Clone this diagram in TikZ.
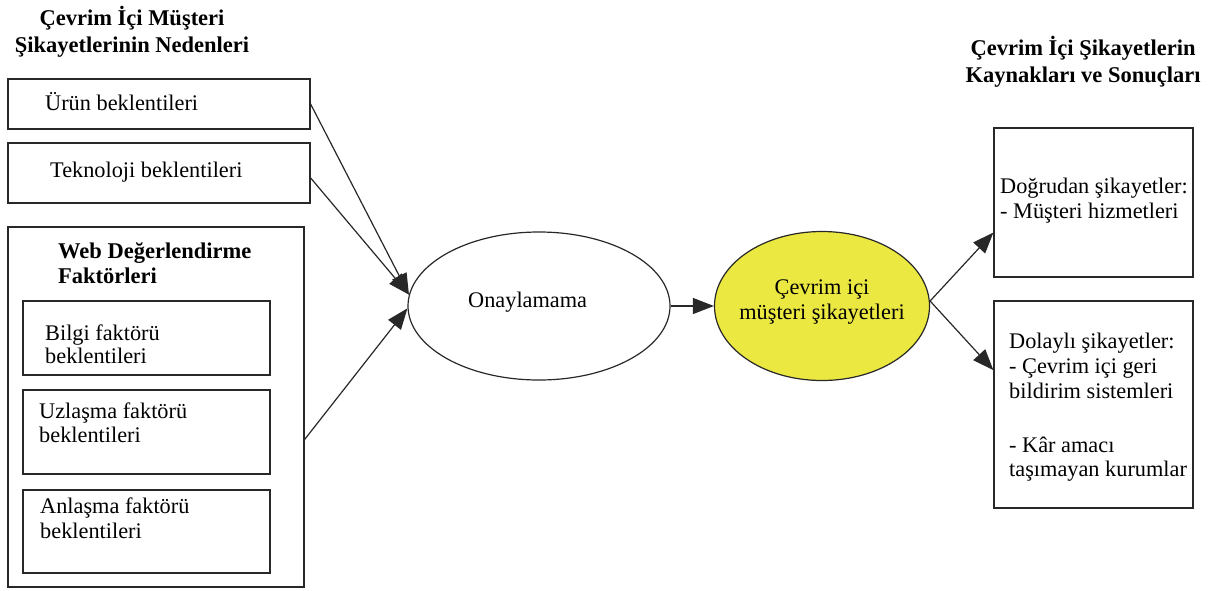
\documentclass[tikz,border=0pt]{standalone}
\usepackage{fontspec}
\setmainfont{Liberation Serif}
\usetikzlibrary{arrows.meta,shapes.geometric,calc}
\definecolor{boxline}{RGB}{40,40,40}
\definecolor{yell}{RGB}{236,232,66}
\begin{document}
\begin{tikzpicture}[x=1pt,y=-1pt,
  every node/.style={font=\fontsize{22.3}{25}\selectfont},
  boxnode/.style={draw=boxline,line width=1.2pt,rectangle,inner sep=0pt},
  txt/.style={anchor=base west,inner sep=0pt},
  ttl/.style={anchor=base,inner sep=0pt,font=\fontsize{22.5}{25}\selectfont\bfseries},
  conn/.style={line width=1.2pt,draw=boxline,-{Triangle[length=21pt,width=16pt]}}
]
\useasboundingbox (0,0) rectangle (1209,590);

% left title
\node[ttl] (lt1) at (132,25) {Çevrim İçi Müşteri};
\node[ttl] (lt2) at (132,52) {Şikayetlerinin Nedenleri};

% left boxes
\node[boxnode,minimum width=302pt,minimum height=50pt] (ur) at (159,104) {};
\node[txt] (urt) at (45,110) {Ürün beklentileri};
\node[boxnode,minimum width=302pt,minimum height=60pt] (tk) at (159,173) {};
\node[txt] (tkt) at (50,177) {Teknoloji beklentileri};

\node[boxnode,minimum width=296pt,minimum height=360pt] (web) at (156,407) {};
\node[txt,font=\fontsize{22.5}{25}\selectfont\bfseries] (wt1) at (58,258) {Web Değerlendirme};
\node[txt,font=\fontsize{22.5}{25}\selectfont\bfseries] (wt2) at (58,283) {Faktörleri};

\node[boxnode,minimum width=247pt,minimum height=74pt] (bf) at (146.5,338) {};
\node[txt] (bf1) at (45,340) {Bilgi faktörü};
\node[txt] (bf2) at (45,363) {beklentileri};
\node[boxnode,minimum width=247pt,minimum height=84pt] (uf) at (146.5,432) {};
\node[txt] (uf1) at (39,418) {Uzlaşma faktörü};
\node[txt] (uf2) at (39,442) {beklentileri};
\node[boxnode,minimum width=247pt,minimum height=83pt] (af) at (146.5,531.5) {};
\node[txt] (af1) at (40,513) {Anlaşma faktörü};
\node[txt] (af2) at (40,538) {beklentileri};

% ellipses
\node[ellipse,draw=boxline,line width=1.2pt,minimum width=262pt,minimum height=148pt,inner sep=0pt] (on) at (539,306) {};
\node[txt] (ont) at (468,307) {Onaylamama};
\node[ellipse,draw=boxline,line width=1.2pt,fill=yell,minimum width=215pt,minimum height=149pt,inner sep=0pt] (ye) at (822,306) {};
\node[anchor=base,inner sep=0pt] (ye1) at (822,294) {Çevrim içi};
\node[anchor=base,inner sep=0pt] (ye2) at (822,319) {müşteri şikayetleri};

% right title
\node[ttl] (rt1) at (1083,55) {Çevrim İçi Şikayetlerin};
\node[ttl] (rt2) at (1083,82) {Kaynakları ve Sonuçları};

% right boxes
\node[boxnode,minimum width=199pt,minimum height=149pt] (dg) at (1093.5,202.5) {};
\node[txt] (dg1) at (1000,193) {Doğrudan şikayetler:};
\node[txt] (dg2) at (1000,218) {- Müşteri hizmetleri};
\node[boxnode,minimum width=199pt,minimum height=207pt] (dl) at (1093.5,404.5) {};
\node[txt] (dl1) at (1009,348) {Dolaylı şikayetler:};
\node[txt] (dl2) at (1009,373) {- Çevrim içi geri};
\node[txt] (dl3) at (1009,398) {bildirim sistemleri};
\node[txt] (dl4) at (1009,452) {- Kâr amacı};
\node[txt] (dl5) at (1009,476) {taşımayan kurumlar};

% connectors
\coordinate (tks) at ($(tk.north east)!0.58!(tk.south east)$);
\coordinate (webs) at ($(web.north east)!0.59!(web.south east)$);
\coordinate (dgin) at ($(dg.north west)!0.70!(dg.south west)$);
\coordinate (dlin) at ($(dl.north west)!0.335!(dl.south west)$);
\coordinate (yeout) at ($(ye.east)+(0,-5)$);

\draw[conn] (ur.east) -- (on.175);
\draw[conn] (tks) -- (on.175);
\draw[conn] (webs) -- (on.181);
\draw[conn] (on.east) -- (ye.west);
\draw[conn] (yeout) -- (dgin);
\draw[conn] (yeout) -- (dlin);
\end{tikzpicture}
\end{document}
